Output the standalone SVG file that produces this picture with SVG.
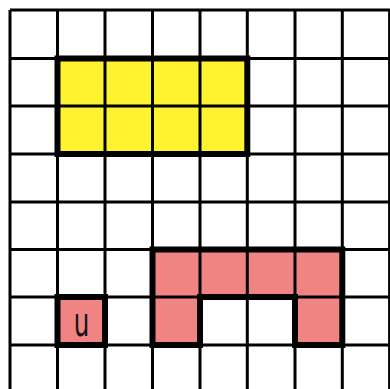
<svg xmlns="http://www.w3.org/2000/svg" width="390" height="389" viewBox="0 0 390 389">
<style>
.grid line{stroke:#000;stroke-width:3}
.outline{fill:none;stroke:#000;stroke-width:6;stroke-linejoin:miter}
.yellow{fill:#fff22e}
.red{fill:#ef8483}
.lbl{font-family:"DejaVu Sans","Liberation Sans",sans-serif;font-size:41px;fill:#111}
</style>
<rect x="0" y="0" width="390" height="389" fill="#fff"/>
<g id="fills">
<rect class="yellow" x="57.5" y="58.5" width="189.8" height="95.5"/>
<path class="red" d="M152.5,249.5 H342.3 V345 H295 V297 H200 V345 H152.5 Z"/>
<rect class="red" x="57.5" y="297" width="47.5" height="48"/>
</g>
<g class="grid" id="grid">
<line x1="10" y1="10" x2="10" y2="389"/>
<line x1="57.5" y1="10" x2="57.5" y2="389"/>
<line x1="105" y1="10" x2="105" y2="389"/>
<line x1="152.5" y1="10" x2="152.5" y2="389"/>
<line x1="200" y1="10" x2="200" y2="389"/>
<line x1="247.3" y1="10" x2="247.3" y2="389"/>
<line x1="295" y1="10" x2="295" y2="389"/>
<line x1="342.3" y1="10" x2="342.3" y2="389"/>
<line x1="389.6" y1="10" x2="389.6" y2="389"/>
<line x1="10" y1="10" x2="390" y2="10"/>
<line x1="10" y1="58.5" x2="390" y2="58.5"/>
<line x1="10" y1="106" x2="390" y2="106"/>
<line x1="10" y1="154" x2="390" y2="154"/>
<line x1="10" y1="202" x2="390" y2="202"/>
<line x1="10" y1="249.5" x2="390" y2="249.5"/>
<line x1="10" y1="297" x2="390" y2="297"/>
<line x1="10" y1="345" x2="390" y2="345"/>
</g>
<g id="yellow-block">
<rect class="outline" x="57.5" y="58.5" width="189.8" height="95.5"/>
</g>
<g id="red-arch">
<path class="outline" d="M152.5,249.5 H342.3 V345 H295 V297 H200 V345 H152.5 Z"/>
</g>
<g id="u-cell">
<rect class="outline" x="57.5" y="297" width="47.5" height="48"/>
<text class="lbl" transform="translate(81.5,335.5) scale(0.6,1)" text-anchor="middle">u</text>
</g>
<g id="connectors"/>
</svg>
